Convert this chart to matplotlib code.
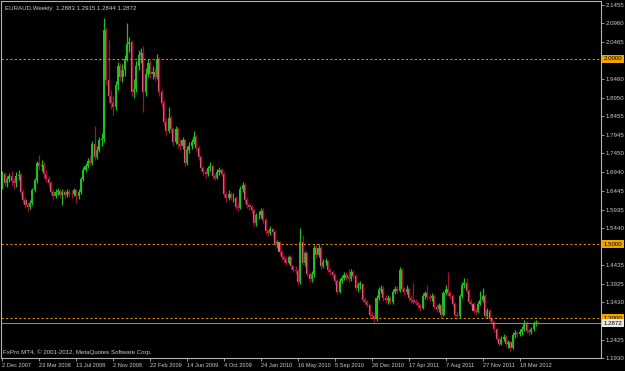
import numpy as np
import matplotlib.pyplot as plt
from matplotlib.transforms import blended_transform_factory

# weekly EURAUD candles, 2 Dec 2007 .. May 2012 (open = previous close)
first_open = 1.652
close = [
    1.690, 1.665, 1.675, 1.685, 1.670, 1.665, 1.685, 1.688, 1.640, 1.620,
    1.605, 1.600, 1.612, 1.645, 1.672, 1.718, 1.710, 1.715, 1.690, 1.675,
    1.665, 1.642, 1.630, 1.640, 1.643, 1.632, 1.640, 1.633, 1.642, 1.636,
    1.635, 1.645, 1.630, 1.640, 1.675, 1.700, 1.712, 1.725, 1.720, 1.770,
    1.735, 1.755, 1.780, 1.785, 2.078, 1.943, 1.900, 1.880, 1.870, 1.930,
    1.980, 1.950, 1.970, 2.000, 2.040, 2.045, 1.910, 1.920, 1.980, 2.010,
    2.015, 1.910, 1.960, 1.990, 1.960, 1.965, 1.950, 2.000, 1.910, 1.880,
    1.830, 1.805, 1.840, 1.810, 1.775, 1.810, 1.770, 1.765, 1.780, 1.720,
    1.755, 1.765, 1.775, 1.790, 1.760, 1.735, 1.706, 1.695, 1.690, 1.705,
    1.712, 1.683, 1.680, 1.695, 1.700, 1.690, 1.635, 1.625, 1.635, 1.625,
    1.625, 1.600, 1.598, 1.650, 1.660, 1.620, 1.605, 1.600, 1.592, 1.557,
    1.578, 1.580, 1.590, 1.565, 1.535, 1.530, 1.540, 1.533, 1.500, 1.505,
    1.478, 1.465, 1.460, 1.450, 1.465, 1.440, 1.430, 1.428, 1.397, 1.506,
    1.450, 1.475, 1.420, 1.405, 1.420, 1.490, 1.470, 1.490, 1.440, 1.452,
    1.455, 1.430, 1.425, 1.418, 1.400, 1.370, 1.400, 1.410, 1.417, 1.410,
    1.405, 1.425, 1.415, 1.382, 1.390, 1.392, 1.350, 1.345, 1.336, 1.310,
    1.305, 1.298, 1.355, 1.376, 1.380, 1.355, 1.350, 1.355, 1.345, 1.370,
    1.380, 1.375, 1.430, 1.380, 1.370, 1.380, 1.355, 1.350, 1.345, 1.342,
    1.335, 1.328, 1.360, 1.368, 1.358, 1.355, 1.360, 1.330, 1.325, 1.335,
    1.310, 1.368, 1.380, 1.368, 1.360, 1.340, 1.310, 1.305, 1.360, 1.390,
    1.395, 1.375, 1.345, 1.340, 1.320, 1.318, 1.340, 1.350, 1.360, 1.305,
    1.320, 1.298, 1.290, 1.270, 1.245, 1.232, 1.245, 1.250, 1.230, 1.235,
    1.220, 1.255, 1.260, 1.258, 1.262, 1.272, 1.288, 1.265, 1.262, 1.270,
    1.285, 1.2883, 1.2872,
]
high = [
    1.698, 1.695, 1.684, 1.693, 1.697, 1.680, 1.694, 1.700, 1.692, 1.648,
    1.628, 1.615, 1.620, 1.652, 1.680, 1.725, 1.742, 1.728, 1.722, 1.700,
    1.685, 1.670, 1.648, 1.648, 1.652, 1.650, 1.648, 1.646, 1.650, 1.648,
    1.645, 1.652, 1.650, 1.648, 1.682, 1.708, 1.720, 1.732, 1.738, 1.778,
    1.820, 1.765, 1.790, 1.800, 2.110, 2.085, 2.050, 1.915, 1.900, 1.940,
    1.992, 1.990, 1.985, 2.010, 2.097, 2.060, 2.050, 1.945, 1.995, 2.025,
    2.030, 2.035, 1.975, 2.000, 1.998, 1.980, 1.975, 2.012, 2.005, 1.920,
    1.890, 1.840, 1.870, 1.848, 1.815, 1.820, 1.815, 1.785, 1.790, 1.785,
    1.765, 1.775, 1.785, 1.805, 1.795, 1.765, 1.740, 1.712, 1.702, 1.712,
    1.722, 1.716, 1.692, 1.702, 1.708, 1.705, 1.695, 1.642, 1.645, 1.640,
    1.638, 1.630, 1.610, 1.658, 1.668, 1.665, 1.628, 1.612, 1.606, 1.596,
    1.585, 1.590, 1.598, 1.598, 1.570, 1.542, 1.548, 1.545, 1.538, 1.512,
    1.508, 1.485, 1.472, 1.465, 1.472, 1.468, 1.445, 1.440, 1.432, 1.544,
    1.525, 1.482, 1.480, 1.425, 1.428, 1.498, 1.500, 1.500, 1.495, 1.460,
    1.462, 1.458, 1.436, 1.430, 1.422, 1.405, 1.408, 1.418, 1.424, 1.425,
    1.432, 1.432, 1.430, 1.420, 1.398, 1.400, 1.396, 1.358, 1.350, 1.340,
    1.318, 1.310, 1.362, 1.384, 1.390, 1.386, 1.362, 1.362, 1.360, 1.378,
    1.388, 1.386, 1.438, 1.435, 1.385, 1.390, 1.385, 1.362, 1.395, 1.352,
    1.348, 1.340, 1.368, 1.375, 1.390, 1.365, 1.368, 1.365, 1.338, 1.342,
    1.340, 1.375, 1.390, 1.425, 1.375, 1.365, 1.345, 1.318, 1.366, 1.398,
    1.410, 1.410, 1.380, 1.352, 1.345, 1.328, 1.348, 1.375, 1.382, 1.365,
    1.328, 1.325, 1.302, 1.294, 1.274, 1.250, 1.252, 1.258, 1.254, 1.242,
    1.240, 1.262, 1.268, 1.266, 1.270, 1.280, 1.295, 1.292, 1.272, 1.276,
    1.292, 1.295, 1.2915,
]
low = [
    1.648, 1.658, 1.655, 1.668, 1.660, 1.650, 1.655, 1.672, 1.633, 1.610,
    1.598, 1.590, 1.595, 1.605, 1.640, 1.665, 1.700, 1.698, 1.680, 1.668,
    1.655, 1.636, 1.622, 1.625, 1.632, 1.625, 1.606, 1.626, 1.628, 1.628,
    1.626, 1.630, 1.610, 1.622, 1.636, 1.670, 1.695, 1.705, 1.710, 1.715,
    1.728, 1.730, 1.748, 1.765, 1.775, 1.930, 1.880, 1.865, 1.850, 1.862,
    1.915, 1.940, 1.938, 1.955, 1.995, 2.020, 1.900, 1.895, 1.910, 1.970,
    1.990, 1.857, 1.900, 1.950, 1.948, 1.945, 1.940, 1.945, 1.900, 1.870,
    1.822, 1.795, 1.800, 1.800, 1.765, 1.770, 1.760, 1.755, 1.758, 1.712,
    1.715, 1.745, 1.758, 1.770, 1.752, 1.728, 1.698, 1.688, 1.680, 1.685,
    1.698, 1.676, 1.672, 1.676, 1.688, 1.684, 1.628, 1.615, 1.618, 1.618,
    1.615, 1.594, 1.590, 1.595, 1.640, 1.612, 1.598, 1.592, 1.585, 1.550,
    1.550, 1.568, 1.572, 1.558, 1.528, 1.522, 1.525, 1.522, 1.494, 1.490,
    1.472, 1.458, 1.452, 1.444, 1.446, 1.434, 1.424, 1.420, 1.390, 1.392,
    1.445, 1.440, 1.414, 1.398, 1.398, 1.412, 1.462, 1.465, 1.432, 1.436,
    1.445, 1.424, 1.418, 1.410, 1.394, 1.365, 1.368, 1.395, 1.404, 1.404,
    1.398, 1.400, 1.408, 1.376, 1.372, 1.380, 1.344, 1.338, 1.330, 1.304,
    1.298, 1.290, 1.294, 1.350, 1.368, 1.348, 1.342, 1.340, 1.338, 1.340,
    1.365, 1.368, 1.372, 1.374, 1.362, 1.365, 1.348, 1.342, 1.338, 1.335,
    1.328, 1.320, 1.324, 1.352, 1.350, 1.348, 1.348, 1.325, 1.318, 1.318,
    1.300, 1.305, 1.362, 1.360, 1.352, 1.334, 1.304, 1.298, 1.300, 1.355,
    1.382, 1.368, 1.338, 1.332, 1.314, 1.310, 1.314, 1.335, 1.345, 1.300,
    1.300, 1.292, 1.284, 1.264, 1.240, 1.226, 1.228, 1.238, 1.225, 1.220,
    1.212, 1.218, 1.248, 1.250, 1.252, 1.256, 1.266, 1.260, 1.255, 1.258,
    1.266, 1.280, 1.2844,
]

date_labels = ['2 Dec 2007', '23 Mar 2008', '13 Jul 2008', '2 Nov 2008', '22 Feb 2009',
               '14 Jun 2009', '4 Oct 2009', '24 Jan 2010', '16 May 2010', '5 Sep 2010',
               '26 Dec 2010', '17 Apr 2011', '7 Aug 2011', '27 Nov 2011', '18 Mar 2012']
date_weeks = [0, 16, 32, 48, 64, 80, 96, 112, 128, 144, 160, 176, 192, 208, 224]
price_ticks = [2.1455, 2.0960, 2.0465, 1.9460, 1.8950, 1.8455, 1.7945, 1.7450, 1.6940,
               1.6445, 1.5935, 1.5440, 1.4435, 1.3925, 1.3430, 1.2425, 1.1930]
levels = [2.0000, 1.5000, 1.3000]
last_price = 1.2872
title = 'EURAUD,Weekly  1.2883 1.2915 1.2844 1.2872'
copyright_text = 'FxPro MT4, © 2001-2012, MetaQuotes Software Corp.'

plt.rcParams['font.family'] = ['Liberation Sans', 'DejaVu Sans']

c = np.array(close)
h = np.array(high)
l = np.array(low)
o = np.concatenate([[first_open], c[:-1]])
x = np.arange(len(c))
up = c >= o

green = '#1fbf1f'
pink = '#f27c96'
dred = '#a01234'
grey = '#b4b4b4'
txt = '#cccccc'
fs = 4.4

fig = plt.figure(figsize=(6.25, 3.71), dpi=100, facecolor='black')
ax = fig.add_axes([1/625, 13/371, 600/625, 357/371], facecolor='black')

ax.vlines(x[up], l[up], h[up], color=green, lw=0.9)
ax.vlines(x[~up], l[~up], h[~up], color=dred, lw=0.9)
ax.bar(x[up], np.maximum(c - o, 0.001)[up], bottom=o[up], width=0.9,
       color=green, linewidth=0)
ax.bar(x[~up], np.maximum(o - c, 0.001)[~up], bottom=c[~up], width=0.9,
       color=pink, edgecolor=dred, linewidth=0.3)

for lv in levels:
    ax.axhline(lv, color='#d88a00', lw=0.8, ls=(0, (2, 2)))
ax.axhline(last_price, color='#7a8a9a', lw=0.8)

ax.set_xlim(-0.6, 259.2)
ax.set_ylim(1.1930, 2.1563)

for s in ax.spines.values():
    s.set_color(grey)
    s.set_linewidth(0.8)

ax.yaxis.tick_right()
ax.set_yticks(price_ticks)
ax.set_yticklabels(['%.4f' % v for v in price_ticks])
ax.set_xticks(date_weeks)
ax.set_xticklabels(date_labels, ha='left')
ax.tick_params(axis='both', colors=grey, labelcolor=txt, labelsize=fs,
               length=2, width=0.6, pad=1.5)
ax.tick_params(axis='x', labelsize=4.1)

tr = blended_transform_factory(ax.transAxes, ax.transData)
for lv in levels:
    ax.text(1.004, lv, '%.4f' % lv, transform=tr, fontsize=fs, color='black',
            va='center', ha='left',
            bbox=dict(boxstyle='square,pad=0.25', fc='#f0a400', ec='none'))
ax.text(1.004, last_price, '%.4f' % last_price, transform=tr, fontsize=fs,
        color='black', va='center', ha='left',
        bbox=dict(boxstyle='square,pad=0.25', fc='#e8e8e8', ec='none'))

ax.text(0.006, 0.985, title, transform=ax.transAxes, color=txt, fontsize=fs,
        va='top', ha='left')
ax.text(0.003, 0.008, copyright_text, transform=ax.transAxes, color=txt,
        fontsize=fs, va='bottom', ha='left')

fig.savefig('out.png', dpi=100, facecolor='black')
